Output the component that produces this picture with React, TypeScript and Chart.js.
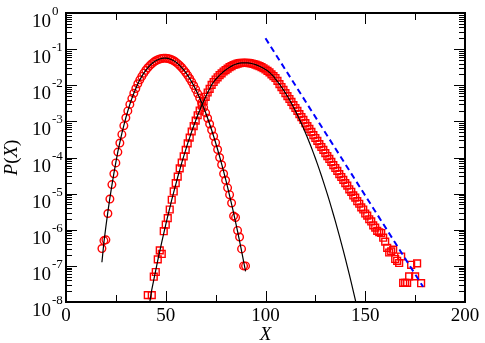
import React, { useEffect, useRef } from 'react';
import { Chart, registerables } from 'chart.js';

Chart.register(...registerables);

// ---- data (y given as log10 P) ----
const circleX = [18,19,20,21,22,23,24,25,26,27,28,29,30,31,32,33,34,35,36,37,38,39,40,41,42,43,44,45,46,47,48,49,50,51,52,53,54,55,56,57,58,59,60,61,62,63,64,65,66,67,68,69,70,71,72,73,74,75,76,77,78,79,80,81,82,83,84,85,86,87,88,89,90];
const circleLog10 = [-6.52,-6.30,-6.28,-5.55,-5.15,-4.75,-4.45,-4.15,-3.85,
  -3.60,-3.36,-3.12,-2.90,-2.71,-2.53,-2.37,-2.22,-2.09,-1.96,-1.85,-1.755,-1.665,-1.586,-1.517,-1.456,-1.404,-1.359,-1.323,-1.293,-1.272,-1.258,-1.251,
  -1.251,-1.258,-1.273,-1.294,-1.323,-1.359,-1.402,-1.453,-1.51,-1.575,-1.647,-1.726,-1.813,-1.906,-2.007,-2.115,-2.23,-2.353,-2.482,-2.619,-2.763,-2.914,-3.073,-3.238,-3.411,-3.591,-3.778,
  -4.00,-4.20,-4.45,-4.63,-4.84,-5.03,-5.26,-5.62,-5.66,-6.02,-6.20,-6.53,-7.00,-7.00];

const circleFitX = [18,19,20,21,22,23,24,25,26,27,28,29,30,31,32,33,34,35,36,37,38,39,40,41,42,43,44,45,46,47,48,49,50,51,52,53,54,55,56,57,58,59,60,61,62,63,64,65,66,67,68,69,70,71,72,73,74,75,76,77,78,79,80,81,82,83,84,85,86,87,88,89,90];
const circleFitLog10 = [-6.90,-6.35,-5.91,-5.50,-5.12,-4.77,-4.44,-4.13,-3.84,
  -3.58,-3.33,-3.11,-2.90,-2.71,-2.53,-2.37,-2.22,-2.09,-1.96,-1.85,-1.755,-1.665,-1.586,-1.517,-1.456,-1.404,-1.359,-1.323,-1.293,-1.272,-1.258,-1.251,
  -1.251,-1.258,-1.273,-1.294,-1.323,-1.359,-1.402,-1.453,-1.51,-1.575,-1.647,-1.726,-1.813,-1.906,-2.007,-2.115,-2.23,-2.353,-2.482,-2.619,-2.763,-2.914,-3.073,-3.238,-3.411,-3.591,-3.778,
  -3.973,-4.174,-4.383,-4.599,-4.822,-5.053,-5.29,-5.535,-5.787,-6.046,-6.313,-6.586,-6.867,-7.155];

const squareX = [41,43,44,45,46,47,48,49,50,51,52,53,54,55,56,57,58,
  59,60,61,62,63,64,65,66,67,68,69,70,71,72,73,74,75,76,77,78,79,80,81,82,83,84,85,86,87,88,89,90,91,92,93,94,95,96,97,98,99,100,101,102,103,104,
  105,106,107,108,109,110,111,112,113,114,115,116,117,118,119,120,121,122,123,124,125,126,127,128,129,130,131,132,133,134,135,136,137,138,139,140,141,142,143,144,145,146,147,148,149,150,151,152,153,154,155,156,
  157,158,159,160,161,162,163,164,165,166,167,168,169,170,171,172,173,175,176,178];
const squareLog10 = [-7.81,-7.81,-7.30,-7.17,-6.82,-6.57,-6.67,-6.04,-5.86,-5.68,-5.44,-5.17,-4.94,-4.71,-4.53,-4.30,-4.14,
  -3.97,-3.79,-3.61,-3.45,-3.28,-3.13,-2.98,-2.83,-2.70,-2.56,-2.44,-2.32,-2.20,-2.10,-1.99,-1.91,-1.84,-1.78,-1.72,-1.67,-1.62,-1.58,-1.54,-1.50,-1.47,-1.44,-1.42,-1.40,-1.39,-1.38,-1.378,-1.378,-1.381,-1.388,-1.398,-1.411,-1.428,-1.449,-1.473,-1.50,-1.53,-1.564,-1.60,-1.645,-1.70,-1.75,
  -1.80,-1.88,-1.97,-2.05,-2.13,-2.22,-2.30,-2.38,-2.46,-2.55,-2.63,-2.71,-2.80,-2.88,-2.96,-3.05,-3.13,-3.21,-3.29,-3.38,-3.46,-3.54,-3.63,-3.71,-3.79,-3.88,-3.96,-4.04,-4.12,-4.21,-4.29,-4.37,-4.46,-4.54,-4.62,-4.71,-4.78,-4.88,-4.95,-5.05,-5.11,-5.21,-5.28,-5.38,-5.44,-5.55,-5.61,-5.71,-5.77,-5.88,-5.94,-6.03,
  -6.07,-6.09,-6.22,-6.33,-6.50,-6.63,-6.60,-6.55,-6.81,-6.86,-6.92,-6.74,-7.47,-7.47,-7.47,-7.29,-6.97,-7.29,-6.93,-7.48];

const squareFitX = [42,43,44,45,46,47,48,49,50,51,52,53,54,55,56,57,58,
  59,60,61,62,63,64,65,66,67,68,69,70,71,72,73,74,75,76,77,78,79,80,81,82,83,84,85,86,87,88,89,90,91,92,93,94,95,96,97,98,99,100,101,102,103,104,
  105,106,107,108,109,110,111,112,113,114,115,116,117,118,119,120,121,122,123,124,125,126,127,128,129,130,131,132,133,134,135,136,137,138,139,140,141,142,143,144,145,146];
const squareFitLog10 = [-8.0,-7.66,-7.39,-7.12,-6.85,-6.60,-6.34,-6.10,-5.86,-5.62,-5.40,-5.17,-4.96,-4.75,-4.54,-4.35,-4.15,
  -3.97,-3.79,-3.61,-3.45,-3.28,-3.13,-2.98,-2.83,-2.70,-2.56,-2.44,-2.32,-2.20,-2.10,-1.99,-1.91,-1.84,-1.78,-1.72,-1.67,-1.62,-1.58,-1.54,-1.50,-1.47,-1.44,-1.42,-1.40,-1.39,-1.38,-1.378,-1.378,-1.381,-1.388,-1.398,-1.411,-1.428,-1.449,-1.473,-1.50,-1.53,-1.564,-1.60,-1.645,-1.70,-1.75,
  -1.829,-1.897,-1.97,-2.048,-2.13,-2.216,-2.306,-2.40,-2.50,-2.603,-2.71,-2.822,-2.938,-3.058,-3.183,-3.312,-3.445,-3.583,-3.725,-3.871,-4.022,-4.176,-4.335,-4.499,-4.667,-4.839,-5.015,-5.195,-5.38,-5.57,-5.763,-5.961,-6.163,-6.369,-6.58,-6.795,-7.014,-7.238,-7.466,-7.698,-7.934,-8.175];

const tailX = [100, 179];
const tailLog10 = [-0.70, -7.58];

const xMajorTicks = [0, 50, 100, 150, 200];
const xMinorTicks = [25, 75, 125, 175];
const yDecades = [0, -1, -2, -3, -4, -5, -6, -7, -8];
const yMinorMultipliers = [2, 3, 4, 5, 6, 7, 8, 9];

const xTitle = 'X';

const toPoints = (xs: number[], logs: number[]) =>
  xs.map((x, i) => ({ x, y: Math.pow(10, logs[i]) }));

const SERIF = '"Liberation Serif", "Times New Roman", serif';

const framePlugin = {
  id: 'gracestyleFrame',
  afterDraw(chart: any) {
    const { ctx, chartArea: a, scales } = chart;
    const xs = scales.x;
    const ys = scales.y;
    ctx.save();
    ctx.strokeStyle = '#000';
    ctx.fillStyle = '#000';

    // ticks (inward, mirrored on all four sides)
    ctx.lineWidth = 1;
    ctx.beginPath();
    const xTick = (v: number, len: number) => {
      const px = Math.round(xs.getPixelForValue(v)) + 0.5;
      ctx.moveTo(px, a.bottom); ctx.lineTo(px, a.bottom - len);
      ctx.moveTo(px, a.top); ctx.lineTo(px, a.top + len);
    };
    xMajorTicks.forEach((v) => xTick(v, 11));
    xMinorTicks.forEach((v) => xTick(v, 7));
    const yTick = (v: number, len: number) => {
      const py = Math.round(ys.getPixelForValue(v)) + 0.5;
      ctx.moveTo(a.left, py); ctx.lineTo(a.left + len, py);
      ctx.moveTo(a.right, py); ctx.lineTo(a.right - len, py);
    };
    yDecades.forEach((d) => {
      yTick(Math.pow(10, d), 11);
      if (d < 0) yMinorMultipliers.forEach((m) => yTick(m * Math.pow(10, d), 6));
    });
    ctx.stroke();

    // frame
    ctx.lineWidth = 2;
    ctx.strokeRect(a.left, a.top, a.right - a.left, a.bottom - a.top);

    // x tick labels
    ctx.font = `19px ${SERIF}`;
    ctx.textAlign = 'center';
    ctx.textBaseline = 'alphabetic';
    xMajorTicks.forEach((v) => {
      ctx.fillText(String(v), xs.getPixelForValue(v), a.bottom + 19);
    });

    // y tick labels: 10^d
    yDecades.forEach((d) => {
      const py = ys.getPixelForValue(Math.pow(10, d));
      ctx.font = `19px ${SERIF}`;
      ctx.textAlign = 'right';
      ctx.fillText('10', 51, py + 14);
      ctx.font = `13px ${SERIF}`;
      ctx.textAlign = 'left';
      ctx.fillText(d === 0 ? '0' : '-' + String(-d), 52, py + 2);
    });

    // x title
    ctx.font = `italic 19px ${SERIF}`;
    ctx.textAlign = 'center';
    ctx.fillText(xTitle, (a.left + a.right) / 2, a.bottom + 38);

    // y title P(X) with italic letters
    ctx.translate(17, (a.top + a.bottom) / 2);
    ctx.rotate(-Math.PI / 2);
    const parts: [string, boolean][] = [['P', true], ['(', false], ['X', true], [')', false]];
    const fontFor = (it: boolean) => `${it ? 'italic ' : ''}19px ${SERIF}`;
    let total = 0;
    parts.forEach(([t, it]) => { ctx.font = fontFor(it); total += ctx.measureText(t).width; });
    let cx = -total / 2;
    ctx.textAlign = 'left';
    parts.forEach(([t, it]) => {
      ctx.font = fontFor(it);
      ctx.fillText(t, cx, 0);
      cx += ctx.measureText(t).width;
    });
    ctx.restore();
  },
};

export default function App() {
  const canvasRef = useRef<HTMLCanvasElement | null>(null);

  useEffect(() => {
    const canvas = canvasRef.current;
    if (!canvas) return;
    const chart = new Chart(canvas, {
      type: 'scatter',
      data: {
        datasets: [
          {
            label: 'fit circles',
            data: toPoints(circleFitX, circleFitLog10),
            showLine: true,
            borderColor: '#000000',
            borderWidth: 1.2,
            pointRadius: 0,
            tension: 0,
          },
          {
            label: 'fit squares',
            data: toPoints(squareFitX, squareFitLog10),
            showLine: true,
            borderColor: '#000000',
            borderWidth: 1.2,
            pointRadius: 0,
            tension: 0,
          },
          {
            label: 'tail',
            data: toPoints(tailX, tailLog10),
            showLine: true,
            borderColor: '#0000ff',
            borderWidth: 2,
            borderDash: [6, 4],
            pointRadius: 0,
          },
          {
            label: 'circles',
            data: toPoints(circleX, circleLog10),
            showLine: false,
            pointStyle: 'circle',
            pointRadius: 3.8,
            borderColor: '#ff0000',
            backgroundColor: 'rgba(0,0,0,0)',
            pointBorderWidth: 1.4,
          },
          {
            label: 'squares',
            data: toPoints(squareX, squareLog10),
            showLine: false,
            pointStyle: 'rect',
            pointRadius: 4.8,
            borderColor: '#ff0000',
            backgroundColor: 'rgba(0,0,0,0)',
            pointBorderWidth: 1.4,
          },
        ],
      },
      options: {
        responsive: false,
        animation: false,
        events: [],
        layout: { padding: { left: 66, right: 20, top: 13, bottom: 41 } },
        plugins: { legend: { display: false }, tooltip: { enabled: false } },
        scales: {
          x: { type: 'linear', min: 0, max: 200, display: false },
          y: { type: 'logarithmic', min: 1e-8, max: 1, display: false },
        },
      },
      plugins: [framePlugin],
    });
    return () => chart.destroy();
  }, []);

  return (
    <div style={{ position: 'absolute', left: 0, top: 0, width: 485, height: 343, background: '#fff' }}>
      <canvas ref={canvasRef} width={485} height={343} style={{ width: 485, height: 343, display: 'block' }} />
    </div>
  );
}
